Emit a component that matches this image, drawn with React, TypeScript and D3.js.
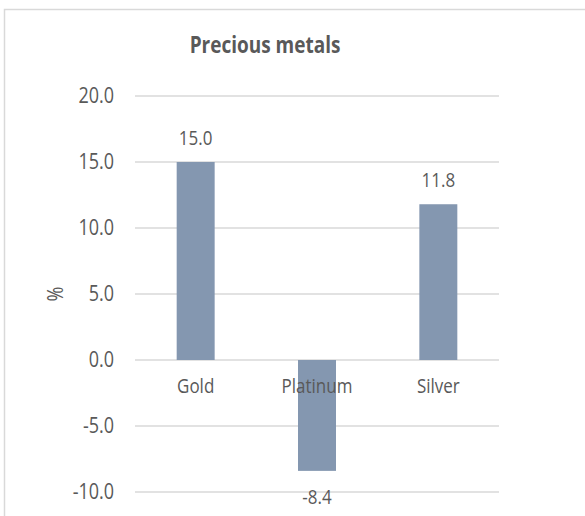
import React from "react";
import * as d3 from "d3";

const categories = ["Gold", "Platinum", "Silver"];
const values = [15.0, -8.4, 11.8];
const yTicks = [20, 15, 10, 5, 0, -5, -10];
const title = "Precious metals";
const yAxisTitle = "%";

const W = 585;
const H = 516;
const FONT = "'Open Sans', 'DejaVu Sans', sans-serif";
const TEXT = "#595959";
const GRID = "#d9d9d9";
const BAR = "#8497b0";
const STRETCH = 1.18;

// one decimal, plain hyphen for negatives
const fmt = (v: number) => d3.format(".1f")(v).replace("\u2212", "-");

type LabelProps = {
  x: number;
  y: number;
  size: number;
  anchor?: "start" | "middle" | "end";
  weight?: number;
  rotate?: number;
  children: React.ReactNode;
};

// text drawn with a slight vertical stretch around its baseline point
function Label({ x, y, size, anchor = "middle", weight = 400, rotate = 0, children }: LabelProps) {
  return (
    <text
      transform={`translate(${x},${y}) rotate(${rotate}) scale(1,${STRETCH})`}
      textAnchor={anchor}
      fontSize={size}
      fontWeight={weight}
      fill={TEXT}
    >
      {children}
    </text>
  );
}

export default function App() {
  const y = d3.scaleLinear().domain([-10, 20]).range([492, 96]);
  const x = d3.scaleBand<string>().domain(categories).range([135, 499]).padding(0);
  const barW = x.bandwidth() * 0.313;
  const center = (c: string) => (x(c) as number) + x.bandwidth() / 2;

  return (
    <svg
      width={W}
      height={H}
      style={{ position: "absolute", left: 0, top: 0, background: "#fff" }}
      fontFamily={FONT}
    >
      {/* chart frame */}
      <rect x={4.5} y={9.5} width={700} height={700} fill="#fff" stroke={GRID} strokeWidth={1.5} />

      <Label x={265} y={53} size={19} weight={700}>
        {title}
      </Label>

      {/* gridlines and y tick labels */}
      {yTicks.map((t) => (
        <g key={t}>
          <line x1={135} x2={499} y1={y(t)} y2={y(t)} stroke={GRID} strokeWidth={1.5} />
          <Label x={114} y={y(t) + 7} size={18} anchor="end">
            {fmt(t)}
          </Label>
        </g>
      ))}

      <Label x={63} y={(y(20) + y(-10)) / 2} size={18} rotate={-90}>
        {yAxisTitle}
      </Label>

      {/* bars */}
      {categories.map((c, i) => {
        const v = values[i];
        const top = y(Math.max(0, v));
        const bottom = y(Math.min(0, v));
        return (
          <rect key={c} x={center(c) - barW / 2} y={top} width={barW} height={bottom - top} fill={BAR} />
        );
      })}

      {/* category labels */}
      {categories.map((c) => (
        <Label key={c} x={center(c)} y={393} size={17}>
          {c}
        </Label>
      ))}

      {/* value labels */}
      {categories.map((c, i) => {
        const v = values[i];
        const ly = v >= 0 ? y(v) - 17 : y(v) + 33;
        return (
          <Label key={c} x={center(c)} y={ly} size={17}>
            {fmt(v)}
          </Label>
        );
      })}
    </svg>
  );
}
